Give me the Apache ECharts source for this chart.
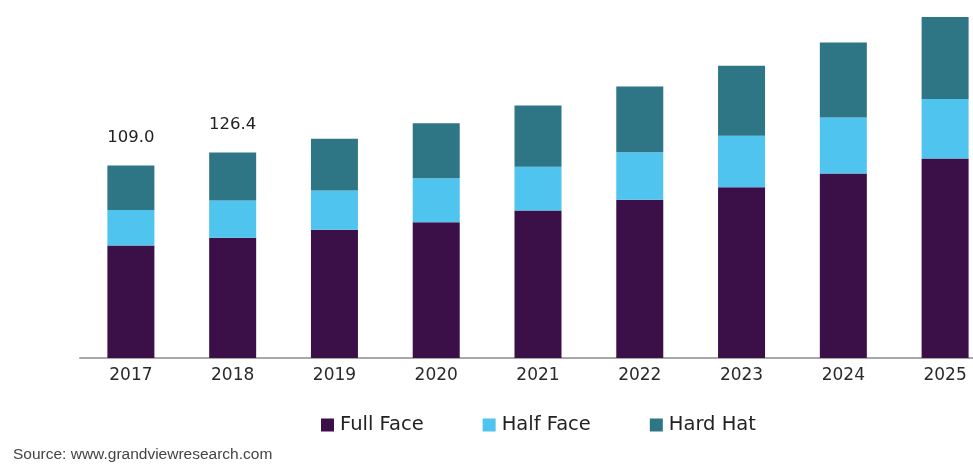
<!DOCTYPE html>
<html>
<head>
<meta charset="utf-8">
<script src="https://cdn.jsdelivr.net/npm/echarts@6/dist/echarts.min.js"></script>
<style>
  html, body { margin: 0; padding: 0; background: #ffffff; }
  #chart { width: 973px; height: 465px; }
</style>
</head>
<body>
<div id="chart"></div>
<script>
// market size by product
const years = ['2017', '2018', '2019', '2020', '2021', '2022', '2023', '2024', '2025'];
const fullFace = [63.7, 68.2, 72.6, 76.9, 83.5, 89.6, 96.8, 104.5, 113.0];
const halfFace = [20.2, 21.0, 22.3, 24.9, 24.9, 27.0, 29.1, 31.7, 33.7];
const hardHat = [25.1, 27.2, 29.3, 31.2, 34.6, 37.2, 39.7, 42.5, 46.5];
// only the first two totals are printed on the chart
const totalLabels = ['109.0', '126.4', '', '', '', '', '', '', ''];

const font = 'DejaVu Sans';
const chart = echarts.init(document.getElementById('chart'));

const option = {
  animation: false,
  grid: { left: 80, right: -23, top: 5, bottom: 107, outerBoundsMode: 'none' },
  xAxis: {
    type: 'category',
    data: years,
    axisLine: { lineStyle: { color: '#a8a8a8', width: 2 } },
    axisTick: { show: false },
    axisLabel: { color: '#2a2a2a', fontFamily: font, fontSize: 17, margin: 9 }
  },
  yAxis: {
    type: 'value',
    min: 0,
    max: 200,
    show: false
  },
  legend: {
    left: 321,
    top: 415,
    padding: 0,
    itemWidth: 13,
    itemHeight: 13,
    itemGap: 59,
    icon: 'rect',
    textStyle: { color: '#222', fontFamily: font, fontSize: 19.5, padding: [0, 0, 0, 1] },
    data: ['Full Face', 'Half Face', 'Hard Hat']
  },
  series: [
    {
      name: 'Full Face',
      type: 'bar',
      stack: 'total',
      barWidth: 47,
      itemStyle: { color: '#3b0f48' },
      data: fullFace
    },
    {
      name: 'Half Face',
      type: 'bar',
      stack: 'total',
      barWidth: 47,
      itemStyle: { color: '#4fc4ef' },
      data: halfFace
    },
    {
      name: 'Hard Hat',
      type: 'bar',
      stack: 'total',
      barWidth: 47,
      itemStyle: { color: '#2e7585' },
      label: {
        show: true,
        position: 'top',
        distance: 19,
        color: '#222',
        fontFamily: font,
        fontSize: 16.5,
        formatter: function (p) { return totalLabels[p.dataIndex]; }
      },
      data: hardHat
    }
  ],
  graphic: [
    {
      type: 'text',
      left: 13,
      top: 447,
      style: {
        text: 'Source: www.grandviewresearch.com',
        fill: '#444',
        font: '15.5px "Liberation Sans"'
      }
    }
  ]
};

chart.setOption(option);
</script>
</body>
</html>
